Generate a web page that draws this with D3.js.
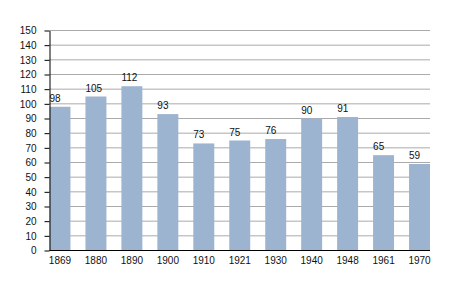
<!DOCTYPE html>
<html><head><meta charset="utf-8">
<script src="https://cdn.jsdelivr.net/npm/d3@7"></script>
<style>body{margin:0;background:#fff;} text{font-family:"Liberation Sans",Arial,sans-serif;}</style>
</head><body>
<svg id="c" width="458" height="300"></svg>
<script>
const years = ["1869","1880","1890","1900","1910","1921","1930","1940","1948","1961","1970"];
const population = [98,105,112,93,73,75,76,90,91,65,59];
const yTicks = [0,10,20,30,40,50,60,70,80,90,100,110,120,130,140,150];

(function(){
const svg = d3.select("#c");
const mLeft = 49.5, mRight = 430, mTop = 30.5, mBottom = 250.5;
const x = d3.scaleBand().domain(years).range([mLeft, mRight]).paddingInner(0.417).paddingOuter(0);
const y = d3.scaleLinear().domain([0,150]).range([mBottom, mTop]);

// gridlines
svg.append("g").selectAll("line").data(yTicks.filter(d=>d>0)).join("line")
  .attr("x1", mLeft).attr("x2", mRight)
  .attr("y1", d=>y(d)).attr("y2", d=>y(d))
  .attr("stroke", "#aaaaaa").attr("stroke-width", 1);

// bars
svg.append("g").selectAll("rect").data(population).join("rect")
  .attr("x", (d,i)=>x(years[i]))
  .attr("width", x.bandwidth())
  .attr("y", d=>y(d))
  .attr("height", d=>y(0)-y(d))
  .attr("fill", "#9cb4d0");

// value labels
svg.append("g").selectAll("text").data(population).join("text")
  .attr("x", (d,i)=>x(years[i]))
  .attr("y", d=>y(d)-5)
  .attr("font-size", 10).attr("fill", "#111")
  .text(d=>d);

// y axis
const ya = svg.append("g").attr("transform", `translate(${mLeft},0)`)
  .call(d3.axisLeft(y).tickValues(yTicks).tickSize(5).tickPadding(8).tickSizeOuter(0));
ya.select(".domain").attr("stroke", "#000");
ya.selectAll(".tick line").attr("stroke", "#000");
ya.selectAll("text").attr("font-size", 10).attr("fill", "#111").attr("font-family", null);

// x axis
const xa = svg.append("g").attr("transform", `translate(0,${mBottom})`)
  .call(d3.axisBottom(x).tickSize(0).tickPadding(6).tickSizeOuter(0));
xa.select(".domain").attr("stroke", "#000").attr("d", `M${mLeft},0H${mRight}`);
xa.selectAll("text").attr("font-size", 10).attr("fill", "#111").attr("font-family", null);
})();
</script>
</body></html>
